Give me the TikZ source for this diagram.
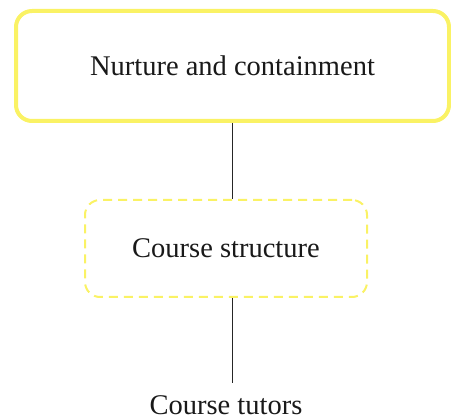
\documentclass[tikz,border=0pt]{standalone}
\usepackage{fontspec}
\setmainfont{Liberation Serif}
\definecolor{boxyellow}{HTML}{FAF264}
\begin{document}
\begin{tikzpicture}[x=1pt,y=-1pt,
  label/.style={font=\fontsize{28.5}{34}\selectfont, text=black!90},
  solidbox/.style={label, draw=boxyellow, line width=4pt, rounded corners=16pt,
    minimum width=433pt, minimum height=110pt, inner sep=0pt},
  dashbox/.style={label, draw=boxyellow, line width=2pt, rounded corners=15pt,
    dash pattern=on 9pt off 6pt, minimum width=282pt, minimum height=97pt, inner sep=0pt},
  link/.style={draw=black!85, line width=1.3pt}]
  \useasboundingbox (0,0) rectangle (451,420);
  \node[solidbox] (top) at (232.5,66) {Nurture and containment};
  \node[dashbox] (mid) at (226,248.5) {Course structure};
  \node[label, anchor=base, inner sep=0pt] (tut) at (226,415) {Course tutors};
  % free end of the lower connector, just above the last label
  \coordinate (tutTop) at (232.5,383);
  \draw[link] (top.south) -- (top.south |- mid.north);
  \draw[link] (top.south |- mid.south) -- (tutTop);
\end{tikzpicture}
\end{document}
